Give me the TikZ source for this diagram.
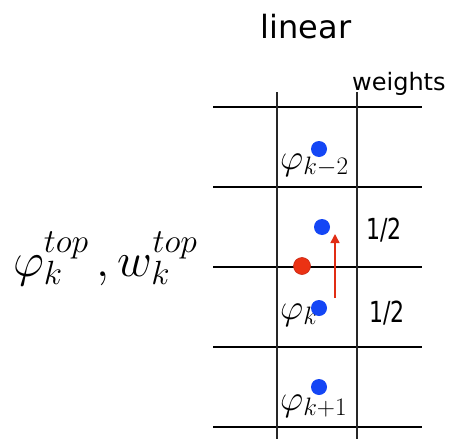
\RequirePackage{fix-cm}
\documentclass[tikz,border=0pt]{standalone}
\usepackage{fontspec}
\usetikzlibrary{arrows.meta}
\newfontfamily\labelfont{DejaVu Sans}
\definecolor{dotblue}{RGB}{20,70,245}
\definecolor{dotred}{RGB}{235,50,20}
\definecolor{dotredrim}{RGB}{200,40,20}
\definecolor{arrowred}{RGB}{225,45,20}
\begin{document}
\begin{tikzpicture}[x=1pt,y=-1pt,
  grid/.style={line width=1.8pt,black},
  vgrid/.style={line width=1.4pt,black!85},
  bluedot/.style={circle,fill=dotblue,inner sep=0pt,minimum size=16pt},
  reddot/.style={circle,fill=dotred,draw=dotredrim,line width=0.6pt,inner sep=0pt,minimum size=17pt},
  sanslabel/.style={inner sep=0pt},
  mathlabel/.style={inner sep=0pt,font=\fontsize{36}{43}\selectfont}]
\useasboundingbox (0,0) rectangle (455,439);
% grid
\foreach \y in {107,187,267,347,427} \draw[grid] (213,\y) -- (422,\y);
\draw[vgrid] (277,92) -- (277,439);
\draw[vgrid] (357,92) -- (357,439);
% texts
\node[sanslabel,font=\labelfont\fontsize{32}{38}\selectfont,anchor=base] (lin) at (306,38) {linear};
\node[sanslabel,font=\labelfont\fontsize{24}{28}\selectfont,anchor=base west] (wts) at (352,90) {weights};
\node[sanslabel,font=\labelfont\fontsize{29}{34}\selectfont,anchor=base west] (h1) at (366,239) {\scalebox{0.76}[1]{1/2}};
\node[sanslabel,font=\labelfont\fontsize{29}{34}\selectfont,anchor=base west] (h2) at (369,322) {\scalebox{0.76}[1]{1/2}};
\node[inner sep=0pt,font=\fontsize{48}{56}\selectfont,anchor=base west] (top) at (13,276) {$\varphi_k^{top}\,,w_k^{top}$};
% cell labels
\node[mathlabel,anchor=base west] (pkm2) at (280,169) {$\varphi_{k-2}$};
\node[mathlabel,anchor=base west] (pk) at (280,319) {$\varphi_{k}$};
\node[mathlabel,anchor=base west] (pkp1) at (280,410) {$\varphi_{k+1}$};
% dots
\node[bluedot] (b1) at (319,149) {};
\node[bluedot] (b2) at (322,227) {};
\node[bluedot] (b3) at (319,308) {};
\node[bluedot] (b4) at (319,387) {};
\node[reddot] (r) at (302,266) {};
% arrow
\coordinate (as) at (335,298);
\coordinate (ae) at (335,234);
\draw[line width=1.5pt,arrowred,-{Triangle[length=9pt,width=9pt]}] (as) -- (ae);
\end{tikzpicture}
\end{document}
